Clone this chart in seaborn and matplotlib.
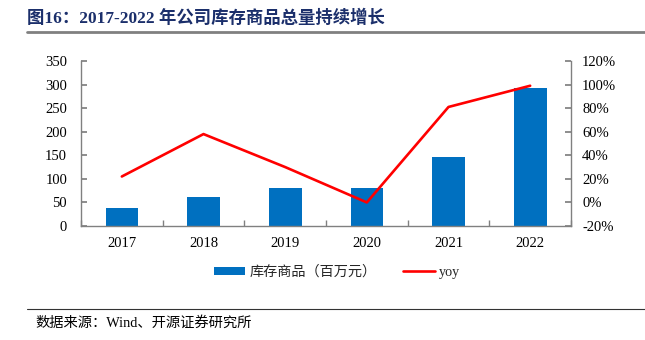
import numpy as np
import pandas as pd
import matplotlib
matplotlib.use("Agg")
import matplotlib.pyplot as plt
import seaborn as sns
from matplotlib.lines import Line2D
from matplotlib.patches import Patch

years = ["2017", "2018", "2019", "2020", "2021", "2022"]
inventory = [39, 62, 81, 81, 147, 293]
yoy = [22, 58, 30, 0, 81, 99]
left_ticks = [0, 50, 100, 150, 200, 250, 300, 350]
right_ticks = [-20, 0, 20, 40, 60, 80, 100, 120]

title = "图16：2017-2022 年公司库存商品总量持续增长"
source = "数据来源：Wind、开源证券研究所"
bar_label = "库存商品（百万元）"
line_label = "yoy"

sns.set_theme(style="white")
plt.rcParams["font.family"] = ["Liberation Serif", "Noto Sans CJK SC", "DejaVu Sans"]

df = pd.DataFrame({"year": years, "inventory": inventory, "yoy": yoy})
df["pos"] = np.arange(len(df))

fig = plt.figure(figsize=(6.45, 3.4), dpi=100)
ax = fig.add_axes([81/645, 1-226/340, 490/645, 165/340])

bar_color = "#0070C0"
sns.barplot(data=df, x="year", y="inventory", color=bar_color, width=0.4,
            saturation=1, ax=ax, edgecolor="none")
ax.set_xlim(-0.5, len(years) - 0.5)
ax.set_ylim(0, 350)
ax.set_yticks(left_ticks)
ax.set_yticklabels([str(t) for t in left_ticks])
ax.set_xlabel("")
ax.set_ylabel("")

ax2 = ax.twinx()
sns.lineplot(data=df, x="pos", y="yoy", color="#FF0000", linewidth=1.9, ax=ax2)
ax2.set_ylim(-20, 120)
ax2.set_yticks(right_ticks)
ax2.set_yticklabels([f"{t}%" for t in right_ticks])
ax2.set_xlim(-0.5, len(years) - 0.5)
ax2.set_xlabel("")
ax2.set_ylabel("")

spine_color = "#808080"
for a in (ax, ax2):
    a.spines["top"].set_visible(False)
    for s in ("left", "right", "bottom"):
        a.spines[s].set_color(spine_color)
        a.spines[s].set_linewidth(1.0)
ax.spines["right"].set_visible(False)
ax2.spines["left"].set_visible(False)
ax2.spines["bottom"].set_visible(False)

ax.tick_params(axis="y", direction="in", length=4, color=spine_color, labelsize=10.5, pad=10, left=True)
ax2.tick_params(axis="y", direction="in", length=4, color=spine_color, labelsize=10.5, pad=8, right=True)
ax.set_xticks(np.arange(len(years)))
ax.set_xticklabels(years)
ax.tick_params(axis="x", length=0, labelsize=10.5, pad=8)
ax.set_xticks(np.arange(-0.5, len(years)), minor=True)
ax.tick_params(axis="x", which="minor", direction="in", length=4, color=spine_color, bottom=True)
for lab in ax.get_yticklabels() + ax2.get_yticklabels() + ax.get_xticklabels():
    lab.set_color("#000000")

handles = [Patch(facecolor=bar_color, edgecolor="none"),
           Line2D([0], [0], color="#FF0000", linewidth=1.9)]
fig.legend(handles, [bar_label, line_label], loc="center", bbox_to_anchor=(337/645, 1-272/340),
           ncol=2, frameon=False, fontsize=10.2, handlelength=2.2, handleheight=0.5,
           columnspacing=1.9, handletextpad=0.3)

fig.text(27/645, 1-18/340, title, fontsize=12.5, fontweight="bold", color="#1B2F6B",
         ha="left", va="center")
fig.add_artist(Line2D([27/645, 1.0], [1-32/340, 1-32/340], color="#808080", linewidth=2.0,
                      transform=fig.transFigure))
fig.add_artist(Line2D([27/645, 1.0], [1-309/340, 1-309/340], color="#333333", linewidth=0.8,
                      transform=fig.transFigure))
fig.text(35/645, 1-323/340, source, fontsize=10.3, color="#000000", ha="left", va="center")

fig.savefig("out.png", dpi=100)
